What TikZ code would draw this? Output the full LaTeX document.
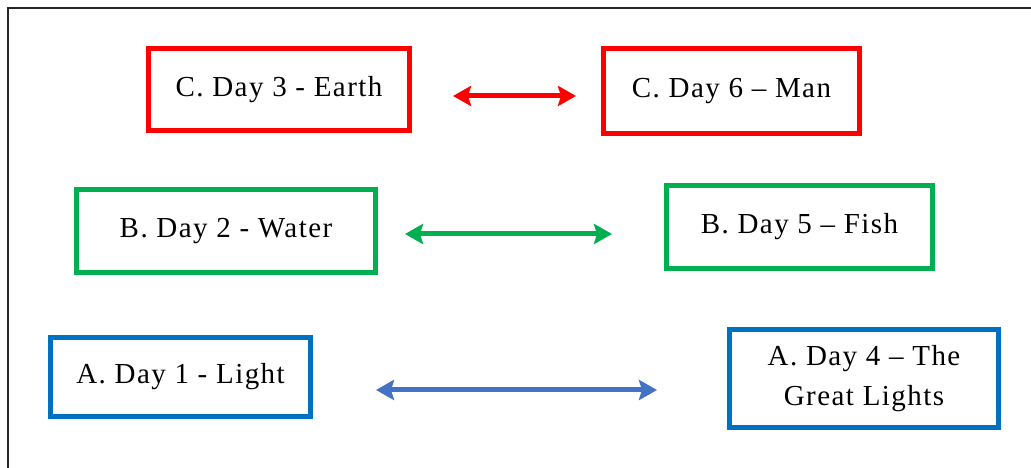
\documentclass[tikz,border=0pt]{standalone}
\usepackage{fontspec}
\setmainfont{Liberation Serif}[LetterSpace=5]
\usetikzlibrary{arrows.meta}
\definecolor{cred}{HTML}{FF0000}
\definecolor{cgreen}{HTML}{00B050}
\definecolor{cblue}{HTML}{0070C0}
\definecolor{carrowblue}{HTML}{4472C4}
\definecolor{cframe}{HTML}{262626}
\tikzset{
  daybox/.style={draw=#1, line width=5pt, fill=white, align=center, inner sep=0pt,
    font=\fontsize{29}{40}\selectfont, text=black},
  dayarrow/.style={line width=5pt, draw=#1, {Stealth[length=18pt,width=20pt,inset=3pt]}-{Stealth[length=18pt,width=20pt,inset=3pt]}},
}
\begin{document}
\begin{tikzpicture}[x=1pt,y=1pt]
\useasboundingbox (0,0) rectangle (1031,468);
\draw[cframe, line width=2.5pt] (8,0) -- (8,460) -- (1031,460);
% row C
\node[daybox=cred, minimum width=261pt, minimum height=82pt] (c3) at (279,378.5) {C. Day 3 - Earth};
\node[daybox=cred, minimum width=256pt, minimum height=85pt] (c6) at (731.5,377) {C. Day 6 -- Man};
% row B
\node[daybox=cgreen, minimum width=299pt, minimum height=83pt] (b2) at (226,237) {B. Day 2 - Water};
\node[daybox=cgreen, minimum width=266pt, minimum height=83pt] (b5) at (799.5,241) {B. Day 5 -- Fish};
% row A
\node[daybox=cblue, minimum width=260pt, minimum height=79pt] (a1) at (180.5,91) {A. Day 1 - Light};
\node[daybox=cblue, minimum width=269pt, minimum height=98pt] (a4) at (864,89.5) {A. Day 4 -- The\\Great Lights};
% arrow endpoints
\coordinate (rl) at (453,372);
\coordinate (rr) at (576,372);
\coordinate (gl) at (405,234);
\coordinate (gr) at (612,234);
\coordinate (bl) at (376,78);
\coordinate (br) at (657,78);
\draw[dayarrow=cred] (rl) -- (rr);
\draw[dayarrow=cgreen] (gl) -- (gr);
\draw[dayarrow=carrowblue] (bl) -- (br);
\end{tikzpicture}
\end{document}
